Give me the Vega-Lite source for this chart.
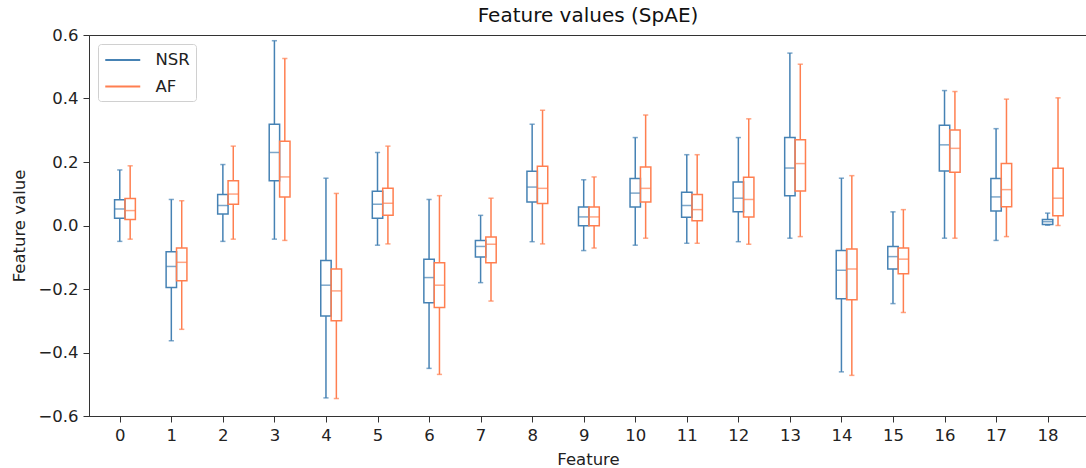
{
  "$schema": "https://vega.github.io/schema/vega-lite/v6.json",
  "autosize": {"type": "none"},
  "padding": {"left": 89, "top": 35, "right": 0, "bottom": 52},
  "width": 998,
  "height": 381,
  "background": "white",
  "title": {"text": "Feature values (SpAE)", "font": "DejaVu Sans", "fontSize": 20, "fontWeight": "normal", "color": "#111", "offset": 1},
  "config": {
    "view": {"stroke": "#333", "strokeWidth": 1},
    "axis": {
      "grid": false,
      "domainColor": "#333",
      "tickColor": "#333",
      "tickSize": 6,
      "labelFont": "DejaVu Sans",
      "labelFontSize": 16.5,
      "labelColor": "#222",
      "labelPadding": 5,
      "titleFont": "DejaVu Sans",
      "titleFontSize": 16.5,
      "titleFontWeight": "normal",
      "titleColor": "#222"
    }
  },
  "data": {"values": [
    {"feature": 0, "group": "NSR", "lo": -0.050, "q1": 0.023, "med": 0.052, "q3": 0.081, "hi": 0.175},
    {"feature": 0, "group": "AF", "lo": -0.043, "q1": 0.019, "med": 0.047, "q3": 0.085, "hi": 0.188},
    {"feature": 1, "group": "NSR", "lo": -0.363, "q1": -0.195, "med": -0.129, "q3": -0.083, "hi": 0.082},
    {"feature": 1, "group": "AF", "lo": -0.327, "q1": -0.174, "med": -0.116, "q3": -0.071, "hi": 0.078},
    {"feature": 2, "group": "NSR", "lo": -0.050, "q1": 0.036, "med": 0.063, "q3": 0.098, "hi": 0.192},
    {"feature": 2, "group": "AF", "lo": -0.043, "q1": 0.067, "med": 0.099, "q3": 0.141, "hi": 0.250},
    {"feature": 3, "group": "NSR", "lo": -0.043, "q1": 0.141, "med": 0.230, "q3": 0.319, "hi": 0.582},
    {"feature": 3, "group": "AF", "lo": -0.047, "q1": 0.090, "med": 0.153, "q3": 0.265, "hi": 0.526},
    {"feature": 4, "group": "NSR", "lo": -0.543, "q1": -0.285, "med": -0.188, "q3": -0.110, "hi": 0.149},
    {"feature": 4, "group": "AF", "lo": -0.545, "q1": -0.300, "med": -0.206, "q3": -0.137, "hi": 0.101},
    {"feature": 5, "group": "NSR", "lo": -0.062, "q1": 0.023, "med": 0.067, "q3": 0.108, "hi": 0.230},
    {"feature": 5, "group": "AF", "lo": -0.058, "q1": 0.032, "med": 0.070, "q3": 0.117, "hi": 0.250},
    {"feature": 6, "group": "NSR", "lo": -0.450, "q1": -0.243, "med": -0.164, "q3": -0.106, "hi": 0.082},
    {"feature": 6, "group": "AF", "lo": -0.469, "q1": -0.258, "med": -0.188, "q3": -0.117, "hi": 0.094},
    {"feature": 7, "group": "NSR", "lo": -0.180, "q1": -0.099, "med": -0.066, "q3": -0.047, "hi": 0.032},
    {"feature": 7, "group": "AF", "lo": -0.238, "q1": -0.117, "med": -0.059, "q3": -0.036, "hi": 0.086},
    {"feature": 8, "group": "NSR", "lo": -0.051, "q1": 0.074, "med": 0.121, "q3": 0.171, "hi": 0.319},
    {"feature": 8, "group": "AF", "lo": -0.058, "q1": 0.069, "med": 0.117, "q3": 0.187, "hi": 0.363},
    {"feature": 9, "group": "NSR", "lo": -0.079, "q1": -0.001, "med": 0.027, "q3": 0.058, "hi": 0.144},
    {"feature": 9, "group": "AF", "lo": -0.071, "q1": -0.001, "med": 0.027, "q3": 0.058, "hi": 0.153},
    {"feature": 10, "group": "NSR", "lo": -0.062, "q1": 0.058, "med": 0.102, "q3": 0.148, "hi": 0.277},
    {"feature": 10, "group": "AF", "lo": -0.040, "q1": 0.074, "med": 0.117, "q3": 0.184, "hi": 0.348},
    {"feature": 11, "group": "NSR", "lo": -0.056, "q1": 0.026, "med": 0.063, "q3": 0.105, "hi": 0.223},
    {"feature": 11, "group": "AF", "lo": -0.056, "q1": 0.015, "med": 0.050, "q3": 0.098, "hi": 0.223},
    {"feature": 12, "group": "NSR", "lo": -0.051, "q1": 0.043, "med": 0.086, "q3": 0.137, "hi": 0.277},
    {"feature": 12, "group": "AF", "lo": -0.059, "q1": 0.027, "med": 0.082, "q3": 0.152, "hi": 0.336},
    {"feature": 13, "group": "NSR", "lo": -0.040, "q1": 0.094, "med": 0.181, "q3": 0.277, "hi": 0.543},
    {"feature": 13, "group": "AF", "lo": -0.035, "q1": 0.109, "med": 0.195, "q3": 0.270, "hi": 0.508},
    {"feature": 14, "group": "NSR", "lo": -0.461, "q1": -0.231, "med": -0.141, "q3": -0.079, "hi": 0.149},
    {"feature": 14, "group": "AF", "lo": -0.472, "q1": -0.234, "med": -0.137, "q3": -0.074, "hi": 0.157},
    {"feature": 15, "group": "NSR", "lo": -0.246, "q1": -0.137, "med": -0.098, "q3": -0.066, "hi": 0.043},
    {"feature": 15, "group": "AF", "lo": -0.274, "q1": -0.152, "med": -0.106, "q3": -0.071, "hi": 0.050},
    {"feature": 16, "group": "NSR", "lo": -0.040, "q1": 0.172, "med": 0.254, "q3": 0.316, "hi": 0.425},
    {"feature": 16, "group": "AF", "lo": -0.040, "q1": 0.168, "med": 0.243, "q3": 0.301, "hi": 0.422},
    {"feature": 17, "group": "NSR", "lo": -0.047, "q1": 0.046, "med": 0.090, "q3": 0.148, "hi": 0.305},
    {"feature": 17, "group": "AF", "lo": -0.035, "q1": 0.059, "med": 0.113, "q3": 0.195, "hi": 0.398},
    {"feature": 18, "group": "NSR", "lo": 0.001, "q1": 0.003, "med": 0.012, "q3": 0.019, "hi": 0.039},
    {"feature": 18, "group": "AF", "lo": 0.000, "q1": 0.031, "med": 0.086, "q3": 0.180, "hi": 0.402}
  ]},
  "encoding": {
    "x": {
      "field": "feature", "type": "quantitative", "title": "Feature",
      "scale": {"domain": [-0.5, 18.667], "nice": false, "zero": false},
      "axis": {"values": [0,1,2,3,4,5,6,7,8,9,10,11,12,13,14,15,16,17,18], "format": "d", "titlePadding": 8}
    },
    "color": {
      "field": "group", "type": "nominal",
      "scale": {"domain": ["NSR", "AF"], "range": ["#4682b4", "#ff7f50"]},
      "legend": {
        "title": null, "orient": "top-left", "offset": 9,
        "symbolType": "M-1,0H3", "symbolSize": 306, "symbolStrokeWidth": 2,
        "labelFont": "DejaVu Sans", "labelFontSize": 16.5, "labelColor": "#222", "labelOffset": 31.5,
        "strokeColor": "#d0d0d0", "fillColor": "white", "cornerRadius": 3, "padding": 6, "rowPadding": 7.5,
        "encode": {"symbols": {"update": {"stroke": {"scale": "color", "field": "value"}, "fill": {"value": "transparent"}}}}
      }
    }
  },
  "layer": [
    {
      "transform": [{"filter": "datum.group === 'NSR'"}],
      "layer": [
        {"mark": {"type": "rule", "strokeWidth": 1.5}, "encoding": {"y": {"field": "lo", "type": "quantitative", "title": "Feature value", "scale": {"domain": [-0.6, 0.6], "nice": false, "zero": false}, "axis": {"values": [-0.6, -0.4, -0.2, 0, 0.2, 0.4, 0.6], "format": ".1f", "titlePadding": 10}}, "y2": {"field": "q1", "title": "Feature value"}}},
        {"mark": {"type": "rule", "strokeWidth": 1.5}, "encoding": {"y": {"field": "q3", "type": "quantitative", "title": "Feature value"}, "y2": {"field": "hi", "title": "Feature value"}}},
        {"mark": {"type": "bar", "filled": false, "width": 10.4, "strokeWidth": 1.5}, "encoding": {"y": {"field": "q1", "type": "quantitative", "title": "Feature value"}, "y2": {"field": "q3", "title": "Feature value"}}},
        {"mark": {"type": "tick", "orient": "horizontal", "size": 10.4, "thickness": 1.5}, "encoding": {"y": {"field": "med", "type": "quantitative", "title": "Feature value"}}},
        {"mark": {"type": "tick", "orient": "horizontal", "size": 5.2, "thickness": 1.5}, "encoding": {"y": {"field": "lo", "type": "quantitative", "title": "Feature value"}}},
        {"mark": {"type": "tick", "orient": "horizontal", "size": 5.2, "thickness": 1.5}, "encoding": {"y": {"field": "hi", "type": "quantitative", "title": "Feature value"}}}
      ]
    },
    {
      "transform": [{"filter": "datum.group === 'AF'"}],
      "layer": [
        {"mark": {"type": "rule", "strokeWidth": 1.5, "xOffset": 10.4}, "encoding": {"y": {"field": "lo", "type": "quantitative", "title": "Feature value"}, "y2": {"field": "q1", "title": "Feature value"}}},
        {"mark": {"type": "rule", "strokeWidth": 1.5, "xOffset": 10.4}, "encoding": {"y": {"field": "q3", "type": "quantitative", "title": "Feature value"}, "y2": {"field": "hi", "title": "Feature value"}}},
        {"mark": {"type": "bar", "filled": false, "width": 10.4, "strokeWidth": 1.5, "xOffset": 10.4}, "encoding": {"y": {"field": "q1", "type": "quantitative", "title": "Feature value"}, "y2": {"field": "q3", "title": "Feature value"}}},
        {"mark": {"type": "tick", "orient": "horizontal", "size": 10.4, "thickness": 1.5, "xOffset": 10.4}, "encoding": {"y": {"field": "med", "type": "quantitative", "title": "Feature value"}}},
        {"mark": {"type": "tick", "orient": "horizontal", "size": 5.2, "thickness": 1.5, "xOffset": 10.4}, "encoding": {"y": {"field": "lo", "type": "quantitative", "title": "Feature value"}}},
        {"mark": {"type": "tick", "orient": "horizontal", "size": 5.2, "thickness": 1.5, "xOffset": 10.4}, "encoding": {"y": {"field": "hi", "type": "quantitative", "title": "Feature value"}}}
      ]
    }
  ]
}
